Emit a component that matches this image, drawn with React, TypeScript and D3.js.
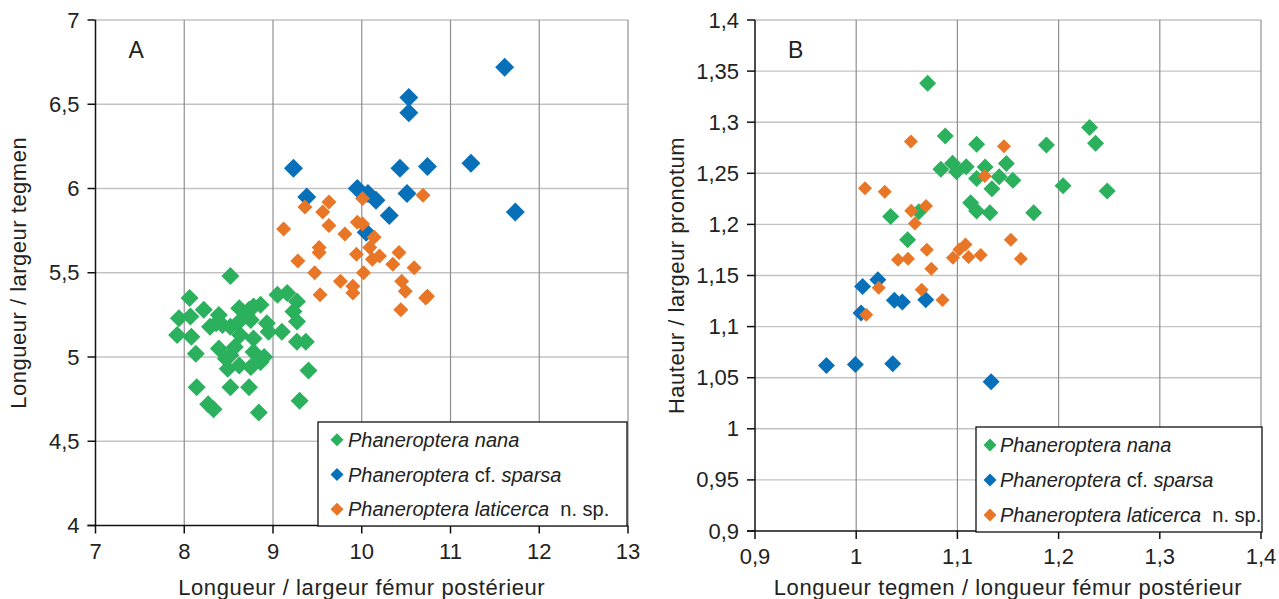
import React from "react";
import * as d3 from "d3";

// Panel A: Longueur / largeur fémur postérieur (x) vs Longueur / largeur tegmen (y)
const nanaA: [number, number][] = [
  [8.52, 5.48], [8.06, 5.35], [8.22, 5.28], [7.94, 5.23], [8.07, 5.24], [7.92, 5.13],
  [8.08, 5.12], [8.39, 5.25], [8.29, 5.18], [8.43, 5.19], [8.62, 5.29], [8.73, 5.28],
  [8.86, 5.31], [8.75, 5.22], [8.6, 5.2], [8.52, 5.18], [8.93, 5.2], [9.1, 5.15],
  [8.95, 5.15], [8.63, 5.13], [8.78, 5.11], [8.39, 5.05], [8.13, 5.02], [8.47, 4.99],
  [8.52, 5.01], [8.49, 4.93], [8.62, 4.95], [8.75, 4.94], [8.86, 4.97], [8.9, 5.0],
  [8.78, 5.03], [9.05, 5.37], [9.16, 5.38], [9.27, 5.33], [9.23, 5.27], [9.27, 5.21],
  [9.27, 5.09], [9.37, 5.09], [9.4, 4.92], [8.14, 4.82], [8.52, 4.82], [8.73, 4.82],
  [8.27, 4.72], [8.33, 4.69], [8.84, 4.67], [9.3, 4.74], [8.78, 5.3], [8.7, 5.25],
  [8.36, 5.2], [8.57, 5.06],
];
const sparsaA: [number, number][] = [
  [11.61, 6.72], [10.53, 6.54], [10.53, 6.45], [9.23, 6.12], [10.43, 6.12], [10.74, 6.13],
  [11.23, 6.15], [9.95, 6.0], [10.07, 5.97], [10.16, 5.93], [10.51, 5.97], [9.38, 5.95],
  [10.31, 5.84], [11.73, 5.86], [10.05, 5.74],
];
const laticercaA: [number, number][] = [
  [10.69, 5.96], [10.01, 5.94], [9.36, 5.89], [9.63, 5.92], [9.56, 5.86], [9.63, 5.78],
  [9.95, 5.8], [10.01, 5.79], [9.12, 5.76], [9.81, 5.73], [10.14, 5.71], [9.52, 5.65],
  [9.52, 5.62], [10.09, 5.65], [9.94, 5.61], [10.2, 5.6], [10.12, 5.58], [10.42, 5.62],
  [9.28, 5.57], [10.35, 5.55], [10.59, 5.53], [9.47, 5.5], [10.02, 5.5], [9.76, 5.45],
  [9.9, 5.42], [9.9, 5.38], [10.45, 5.45], [10.49, 5.39], [9.53, 5.37], [10.74, 5.36],
  [10.44, 5.28], [10.72, 5.35],
];

// Panel B: Longueur tegmen / longueur fémur postérieur (x) vs Hauteur / largeur pronotum (y)
const nanaB: [number, number][] = [
  [1.0706, 1.338], [1.088, 1.2866], [1.2306, 1.2948], [1.2365, 1.2794], [1.188, 1.2778],
  [1.119, 1.2784], [1.0837, 1.254], [1.0952, 1.2598], [1.0992, 1.2516], [1.1087, 1.2565],
  [1.1274, 1.2562], [1.1484, 1.2595], [1.119, 1.2448], [1.1413, 1.2467], [1.1548, 1.2431],
  [1.1341, 1.235], [1.2044, 1.2379], [1.248, 1.2327], [1.1131, 1.2212], [1.119, 1.213],
  [1.1321, 1.2114], [1.1754, 1.2114], [1.0341, 1.2078], [1.0619, 1.2124], [1.0508, 1.185],
];
const sparsaB: [number, number][] = [
  [1.0063, 1.1393], [1.0214, 1.1458], [1.0377, 1.1257], [1.0456, 1.124], [1.0687, 1.1263],
  [1.0048, 1.1133], [0.9706, 1.062], [0.9992, 1.063], [1.0361, 1.0636], [1.1333, 1.046],
];
const laticercaB: [number, number][] = [
  [1.054, 1.281], [1.146, 1.2765], [1.127, 1.2474], [1.0087, 1.2353], [1.0282, 1.232],
  [1.0544, 1.2134], [1.069, 1.218], [1.058, 1.201], [1.1528, 1.185], [1.0698, 1.1752],
  [1.108, 1.1804], [1.102, 1.1755], [1.0413, 1.1654], [1.0512, 1.1663], [1.0956, 1.1673],
  [1.111, 1.168], [1.123, 1.17], [1.1627, 1.1663], [1.0742, 1.1565], [1.0222, 1.138],
  [1.0647, 1.136], [1.0853, 1.126], [1.0099, 1.1117],
];

const ticksAX = [7, 8, 9, 10, 11, 12, 13];
const ticksAY = [4, 4.5, 5, 5.5, 6, 6.5, 7];
const ticksBX = [0.9, 1, 1.1, 1.2, 1.3, 1.4];
const ticksBY = [0.9, 0.95, 1, 1.05, 1.1, 1.15, 1.2, 1.25, 1.3, 1.35, 1.4];

const GREEN = "#2bb05d";
const BLUE = "#0870b9";
const ORANGE = "#e87626";
const FONT = "'Liberation Sans', Arial, Helvetica, sans-serif";

const fmt = (v: number) => String(+v.toFixed(2)).replace(".", ",");

const diamond = (cx: number, cy: number, r: number) =>
  `M${cx},${cy - r}L${cx + r},${cy}L${cx},${cy + r}L${cx - r},${cy}Z`;

type Series = { data: [number, number][]; color: string; r: number };
type LegendBox = { x: number; y: number; w: number; h: number; mark: number; text: number };

type PanelProps = {
  x: d3.ScaleLinear<number, number>;
  y: d3.ScaleLinear<number, number>;
  xTicks: number[];
  yTicks: number[];
  series: Series[];
  letter: string;
  xTitle: string;
  yTitle: string;
  yTitleX: number;
  legend: LegendBox;
};

function Legend({ x, y, w, h, mark, text }: LegendBox) {
  const rows = [
    { color: GREEN, parts: [["Phaneroptera nana", true]] },
    { color: BLUE, parts: [["Phaneroptera", true], [" cf. ", false], ["sparsa", true]] },
    { color: ORANGE, parts: [["Phaneroptera laticerca", true], ["  n. sp.", false]] },
  ] as { color: string; parts: [string, boolean][] }[];
  const step = h / 3;
  return (
    <g>
      <rect x={x} y={y} width={w} height={h} fill="#fff" stroke="#111" strokeWidth={1.3} />
      {rows.map((row, i) => {
        const cy = y + step * (i + 0.5) + 0.5;
        return (
          <g key={i}>
            <path d={diamond(x + mark, cy, 6.5)} fill={row.color} />
            <text x={x + text} y={cy + 7} fontSize={20} fill="#222" fontFamily={FONT} style={{ whiteSpace: "pre" }}>
              {row.parts.map(([t, it], j) => (
                <tspan key={j} fontStyle={it ? "italic" : "normal"}>{t}</tspan>
              ))}
            </text>
          </g>
        );
      })}
    </g>
  );
}

function Panel({ x, y, xTicks, yTicks, series, letter, xTitle, yTitle, yTitleX, legend }: PanelProps) {
  const [x0, x1] = x.range();
  const [y0, y1] = y.range(); // y0 bottom, y1 top
  return (
    <g>
      {/* horizontal grid */}
      {yTicks.slice(1).map((t) => (
        <line key={"h" + t} x1={x0} x2={x1} y1={y(t)} y2={y(t)} stroke="#c3c3c3" strokeWidth={1.4} />
      ))}
      {/* vertical grid */}
      {xTicks.slice(1).map((t) => (
        <line key={"v" + t} x1={x(t)} x2={x(t)} y1={y1} y2={y0} stroke="#8f8f8f" strokeWidth={1.2} />
      ))}
      {/* data */}
      {series.map((s, si) => (
        <g key={si}>
          {s.data.map(([a, b], i) => (
            <path key={i} d={diamond(x(a), y(b), s.r)} fill={s.color} />
          ))}
        </g>
      ))}
      {/* axes */}
      <line x1={x0} x2={x0} y1={y1} y2={y0} stroke="#111" strokeWidth={1.5} />
      <line x1={x0 - 8} x2={x1} y1={y0} y2={y0} stroke="#111" strokeWidth={1.5} />
      {yTicks.map((t) => (
        <g key={"yt" + t}>
          <line x1={x0 - 8} x2={x0} y1={y(t)} y2={y(t)} stroke="#111" strokeWidth={1.5} />
          <text x={x0 - 16} y={y(t) + 7.5} textAnchor="end" fontSize={22} fill="#222" fontFamily={FONT}>
            {fmt(t)}
          </text>
        </g>
      ))}
      {xTicks.map((t) => (
        <g key={"xt" + t}>
          <line x1={x(t)} x2={x(t)} y1={y0} y2={y0 + 8} stroke="#111" strokeWidth={1.5} />
          <text x={x(t)} y={y0 + 33} textAnchor="middle" fontSize={22} fill="#222" fontFamily={FONT}>
            {fmt(t)}
          </text>
        </g>
      ))}
      <Legend {...legend} />
      <text x={x0 + 33} y={y1 + 38} fontSize={23} fill="#222" fontFamily={FONT}>
        {letter}
      </text>
      <text
        x={(x0 + x1) / 2}
        y={595}
        textAnchor="middle"
        fontSize={22}
        letterSpacing={0.6}
        fill="#222"
        fontFamily={FONT}
      >
        {xTitle}
      </text>
      <text
        transform={`translate(${yTitleX},${(y0 + y1) / 2}) rotate(-90)`}
        textAnchor="middle"
        fontSize={22}
        letterSpacing={0.5}
        fill="#222"
        fontFamily={FONT}
      >
        {yTitle}
      </text>
    </g>
  );
}

export default function App() {
  const xA = d3.scaleLinear().domain([7, 13]).range([95.5, 628]);
  const yA = d3.scaleLinear().domain([4, 7]).range([525.5, 20]);
  const xB = d3.scaleLinear().domain([0.9, 1.4]).range([755, 1261]);
  const yB = d3.scaleLinear().domain([0.9, 1.4]).range([531, 20]);

  return (
    <svg
      width={1279}
      height={599}
      viewBox="0 0 1279 599"
      style={{ position: "absolute", left: 0, top: 0, background: "#fff" }}
    >
      <rect width={1279} height={599} fill="#fff" />
      <Panel
        x={xA}
        y={yA}
        xTicks={ticksAX}
        yTicks={ticksAY}
        series={[
          { data: nanaA, color: GREEN, r: 9 },
          { data: sparsaA, color: BLUE, r: 9.5 },
          { data: laticercaA, color: ORANGE, r: 7.5 },
        ]}
        letter="A"
        xTitle="Longueur / largeur fémur postérieur"
        yTitle="Longueur / largeur tegmen"
        yTitleX={26}
        legend={{ x: 318, y: 422, w: 309, h: 104, mark: 19, text: 30 }}
      />
      <Panel
        x={xB}
        y={yB}
        xTicks={ticksBX}
        yTicks={ticksBY}
        series={[
          { data: nanaB, color: GREEN, r: 8.5 },
          { data: sparsaB, color: BLUE, r: 8.5 },
          { data: laticercaB, color: ORANGE, r: 7 },
        ]}
        letter="B"
        xTitle="Longueur tegmen / longueur fémur postérieur"
        yTitle="Hauteur / largeur pronotum"
        yTitleX={684}
        legend={{ x: 976, y: 427, w: 286, h: 105, mark: 14, text: 24 }}
      />
    </svg>
  );
}
